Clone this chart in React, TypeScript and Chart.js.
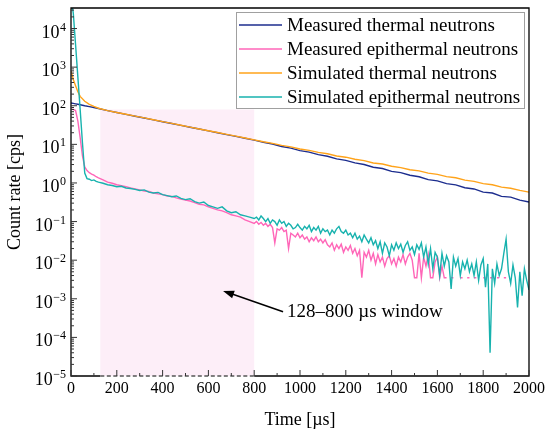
import React, { useEffect, useRef } from 'react';
import { Chart, registerables } from 'chart.js';

Chart.register(...registerables);

const SERIF = '"Liberation Serif", "Times New Roman", serif';

// time axis (µs) for the thermal curves
const thermalTimes = [
  0, 10, 20, 30, 40, 60, 80, 100, 120,
  160, 200, 240, 280, 320, 360, 400, 440, 480, 520, 560, 600, 640, 680, 720, 760, 800,
  840, 880, 920, 960, 1000, 1040, 1080, 1120, 1160, 1200, 1240, 1280, 1320, 1360, 1400,
  1440, 1480, 1520, 1560, 1600, 1640, 1680, 1720, 1760, 1800, 1840, 1880, 1920, 1960, 2000,
];

const measuredThermal = [
  118, 115, 112, 109, 106, 100, 95, 90, 85,
  74.5, 66.7, 59.8, 53.6, 48.1, 43.1, 38.6, 34.6, 31.0, 27.8, 24.9, 22.3, 20.0, 17.9, 16.1, 14.4, 12.9,
  11.3, 10.2, 8.8, 8.0, 6.9, 6.3, 5.4, 4.9, 4.2, 3.85, 3.3, 3.0, 2.55, 2.36, 2.0,
  1.85, 1.58, 1.45, 1.22, 1.13, 0.96, 0.89, 0.75, 0.7, 0.58, 0.55, 0.45, 0.43, 0.36, 0.32,
];

const simulatedThermal = [
  800, 480, 330, 230, 175, 130, 108, 96, 86,
  75, 67, 60, 54, 48.5, 43.5, 38.8, 34.8, 31.2, 28, 25, 22.5, 20.2, 18.1, 16.3, 14.6, 13.1,
  11.7, 10.6, 9.4, 8.6, 7.6, 7.0, 6.2, 5.7, 5.0, 4.65, 4.1, 3.8, 3.3, 3.1, 2.7,
  2.5, 2.2, 2.05, 1.8, 1.67, 1.46, 1.36, 1.18, 1.1, 0.96, 0.9, 0.78, 0.73, 0.64, 0.58,
];

// time axis (µs) for the epithermal curves
const epiTimes = [
  0, 10, 20, 30, 40, 50, 60, 70, 80, 90, 100, 110, 120,
  140, 160, 180, 200, 220, 240, 260, 280, 300, 320, 340, 360, 380, 400, 420, 440, 460, 480,
  500, 520, 540, 560, 580, 600, 620, 640, 660, 680, 700, 720, 740, 760, 780, 800,
  810, 820, 830, 840, 850, 860, 870, 880, 890, 900, 910, 920, 930, 940, 950, 960, 970, 980, 990, 1000,
  1010, 1020, 1030, 1040, 1050, 1060, 1070, 1080, 1090, 1100, 1110, 1120, 1130, 1140, 1150, 1160,
  1170, 1180, 1190, 1200, 1210, 1220, 1230, 1240, 1250, 1260, 1270, 1280, 1290, 1300, 1310, 1320,
  1330, 1340, 1350, 1360, 1370, 1380, 1390, 1400, 1410, 1420, 1430, 1440, 1450, 1460, 1470, 1480,
  1490, 1500, 1510, 1520, 1530, 1540, 1550, 1560, 1570, 1580, 1590, 1600, 1610, 1620, 1630, 1640,
  1650, 1660, 1670, 1680, 1690, 1700, 1710, 1720, 1730, 1740, 1750, 1760, 1770, 1780, 1790, 1800,
  1810, 1820, 1830, 1840, 1850, 1860, 1870, 1880, 1890, 1900, 1910, 1920, 1930, 1940, 1950, 1960,
  1970, 1980, 1990, 2000,
];

const measuredEpithermal: (number | null)[] = [
  82, 80, 75, 40, 15, 5, 2.6, 2.1, 1.85, 1.7, 1.6, 1.45, 1.35,
  1.2, 1.05, 0.98, 0.9, 0.85, 0.8, 0.74, 0.7, 0.66, 0.62, 0.6, 0.55, 0.52, 0.5, 0.46, 0.45, 0.41, 0.38,
  0.36, 0.34, 0.31, 0.28, 0.27, 0.24, 0.22, 0.2, 0.19, 0.17, 0.15, 0.14, 0.13, 0.11, 0.1, 0.09,
  0.1, 0.085, 0.095, 0.08, 0.09, 0.075, 0.085, 0.07, 0.028, 0.065, 0.06, 0.07, 0.055, 0.06, 0.02, 0.05, 0.045, 0.04, 0.05, 0.038,
  0.045, 0.035, 0.04, 0.03, 0.038, 0.032, 0.04, 0.03, 0.035, 0.028, 0.034, 0.025, 0.022, 0.028, 0.018, 0.025,
  0.02, 0.026, 0.016, 0.022, 0.018, 0.024, 0.015, 0.02, 0.013, 0.018, 0.0035, 0.016, 0.012, 0.018, 0.01, 0.015,
  0.008, 0.014, 0.009, 0.012, 0.007, 0.011, 0.013, 0.008, 0.011, 0.007, 0.012, 0.009, 0.014, 0.008, 0.012, 0.015,
  0.01, 0.0035, 0.0035, 0.015, 0.0035, 0.012, 0.007, 0.014, 0.0035, 0.0035, 0.009, 0.012, 0.0035, 0.007, 0.0035, 0.0035,
  null, 0.0035, 0.0035, null, null, 0.0035, 0.0035, null, 0.0035, 0.0035, null, 0.0035, 0.0035, null, null, 0.0035,
  0.0035, null, 0.0035, 0.0035, null, 0.0035, 0.0035, null, 0.0035, 0.0035,
];

const simulatedEpithermal = [
  60000, 25000, 3800, 550, 80, 11, 1.8, 1.3, 1.25, 1.15, 1.2, 1.1, 1.05,
  0.98, 0.9, 0.86, 0.8, 0.82, 0.74, 0.72, 0.68, 0.64, 0.66, 0.58, 0.55, 0.57, 0.5, 0.47, 0.44, 0.46, 0.4,
  0.37, 0.39, 0.33, 0.3, 0.32, 0.26, 0.24, 0.22, 0.24, 0.19, 0.17, 0.18, 0.15, 0.14, 0.13, 0.12,
  0.13, 0.11, 0.14, 0.12, 0.1, 0.12, 0.09, 0.11, 0.1, 0.08, 0.11, 0.09, 0.1, 0.075, 0.09, 0.08, 0.065, 0.07, 0.085, 0.07,
  0.06, 0.075, 0.065, 0.08, 0.055, 0.07, 0.06, 0.075, 0.05, 0.065, 0.055, 0.06, 0.045, 0.06, 0.05, 0.065,
  0.075, 0.055, 0.05, 0.06, 0.045, 0.05, 0.038, 0.05, 0.035, 0.042, 0.03, 0.045, 0.035, 0.028, 0.038, 0.025,
  0.032, 0.02, 0.03, 0.015, 0.028, 0.022, 0.013, 0.025, 0.018, 0.028, 0.02, 0.026, 0.016, 0.024, 0.03, 0.018,
  0.022, 0.014, 0.025, 0.019, 0.028, 0.012, 0.022, 0.008, 0.02, 0.006, 0.016, 0.012, 0.004, 0.015, 0.007, 0.013,
  0.009, 0.0018, 0.012, 0.007, 0.011, 0.004, 0.009, 0.006, 0.01, 0.005, 0.008, 0.004, 0.009, 0.003, 0.0075, 0.011,
  0.002, 0.008, 0.00004, 0.006, 0.0025, 0.008, 0.004, 0.006, 0.015, 0.035, 0.005, 0.0025, 0.0075, 0.0035, 0.0006, 0.005,
  0.0012, 0.006, 0.003, 0.0017,
];

const seriesLabels = [
  'Measured thermal neutrons',
  'Measured epithermal neutrons',
  'Simulated thermal neutrons',
  'Simulated epithermal neutrons',
];
const seriesColors = ['#1c2d8e', '#ff66b8', '#ffa31a', '#17b2ae'];

const xTicks = [0, 200, 400, 600, 800, 1000, 1200, 1400, 1600, 1800, 2000];
const yPowers = [-5, -4, -3, -2, -1, 0, 1, 2, 3, 4];

// shaded analysis window
const windowStart = 128;
const windowEnd = 800;
const windowTop = 80;
const windowText = '128–800 µs window';
const arrowHead = { x: 664, y: 1.6e-3 };
const arrowTail = { x: 926, y: 4.6e-4 };

const toPoints = (times: number[], values: (number | null)[]) =>
  values.map((v, i) => ({ x: times[i], y: v }));

const decorations = {
  id: 'decorations',
  beforeDatasetsDraw(chart: any) {
    const { ctx, chartArea, scales } = chart;
    const { x, y } = scales;
    const l = x.getPixelForValue(windowStart);
    const r = x.getPixelForValue(windowEnd);
    const t = y.getPixelForValue(windowTop);
    ctx.save();
    ctx.fillStyle = '#fdeef8';
    ctx.fillRect(l, t, r - l, chartArea.bottom - t);
    ctx.restore();
  },
  afterDatasetsDraw(chart: any) {
    const { ctx, chartArea, scales } = chart;
    const { x, y } = scales;
    const { left, right, top, bottom } = chartArea;
    ctx.save();

    // frame
    ctx.strokeStyle = '#000';
    ctx.lineWidth = 1.3;
    ctx.beginPath();
    ctx.moveTo(x.getPixelForValue(windowStart), bottom);
    ctx.lineTo(left, bottom);
    ctx.lineTo(left, top);
    ctx.lineTo(right, top);
    ctx.lineTo(right, bottom);
    ctx.lineTo(x.getPixelForValue(windowEnd), bottom);
    ctx.stroke();
    ctx.save();
    ctx.strokeStyle = '#555';
    ctx.setLineDash([4, 2.5]);
    ctx.beginPath();
    ctx.moveTo(x.getPixelForValue(windowStart), bottom);
    ctx.lineTo(x.getPixelForValue(windowEnd), bottom);
    ctx.stroke();
    ctx.restore();

    // inward ticks
    ctx.lineWidth = 1;
    ctx.strokeStyle = '#333';
    ctx.beginPath();
    xTicks.forEach((v) => {
      const px = x.getPixelForValue(v);
      ctx.moveTo(px, bottom);
      ctx.lineTo(px, bottom - 6);
      const mx = x.getPixelForValue(v + 100);
      if (v + 100 < 2000) {
        ctx.moveTo(mx, bottom);
        ctx.lineTo(mx, bottom - 3);
      }
    });
    yPowers.forEach((p) => {
      const py = y.getPixelForValue(Math.pow(10, p));
      ctx.moveTo(left, py);
      ctx.lineTo(left + 6, py);
      for (let m = 2; m <= 9; m++) {
        const v = m * Math.pow(10, p);
        if (v > y.max) break;
        const my = y.getPixelForValue(v);
        ctx.moveTo(left, my);
        ctx.lineTo(left + 3, my);
      }
    });
    ctx.stroke();

    // y tick labels 10^n
    ctx.fillStyle = '#000';
    ctx.textBaseline = 'alphabetic';
    ctx.textAlign = 'left';
    yPowers.forEach((p) => {
      const py = y.getPixelForValue(Math.pow(10, p));
      const exp = p < 0 ? '−' + -p : String(p);
      ctx.font = `12px ${SERIF}`;
      const we = ctx.measureText(exp).width;
      ctx.font = `18px ${SERIF}`;
      const wb = ctx.measureText('10').width;
      const rx = left - 5;
      ctx.fillText('10', rx - we - wb - 0.5, py + 9);
      ctx.font = `12px ${SERIF}`;
      ctx.fillText(exp, rx - we, py + 2);
    });

    // arrow + label
    const hx = x.getPixelForValue(arrowHead.x);
    const hy = y.getPixelForValue(arrowHead.y);
    const tx = x.getPixelForValue(arrowTail.x);
    const ty = y.getPixelForValue(arrowTail.y);
    const ang = Math.atan2(hy - ty, hx - tx);
    const hl = 11;
    const hw = 4;
    ctx.strokeStyle = '#000';
    ctx.lineWidth = 1.5;
    ctx.beginPath();
    ctx.moveTo(tx, ty);
    ctx.lineTo(hx - Math.cos(ang) * hl * 0.8, hy - Math.sin(ang) * hl * 0.8);
    ctx.stroke();
    ctx.beginPath();
    ctx.moveTo(hx, hy);
    ctx.lineTo(
      hx - Math.cos(ang) * hl + Math.sin(ang) * hw,
      hy - Math.sin(ang) * hl - Math.cos(ang) * hw
    );
    ctx.lineTo(
      hx - Math.cos(ang) * hl - Math.sin(ang) * hw,
      hy - Math.sin(ang) * hl + Math.cos(ang) * hw
    );
    ctx.closePath();
    ctx.fill();
    ctx.font = `19px ${SERIF}`;
    ctx.textBaseline = 'middle';
    ctx.fillText(windowText, tx + 4, ty);

    // legend box
    const bx = 236;
    const by = 12;
    ctx.fillStyle = '#fff';
    ctx.fillRect(bx, by, 288, 96);
    ctx.strokeStyle = '#a0a0a0';
    ctx.lineWidth = 1;
    ctx.strokeRect(bx + 0.5, by + 0.5, 288, 96);
    seriesLabels.forEach((label, i) => {
      const ry = by + 13 + i * 24;
      ctx.strokeStyle = seriesColors[i];
      ctx.lineWidth = 1.5;
      ctx.beginPath();
      ctx.moveTo(bx + 3, ry);
      ctx.lineTo(bx + 46, ry);
      ctx.stroke();
      ctx.fillStyle = '#000';
      ctx.font = `19px ${SERIF}`;
      ctx.textBaseline = 'middle';
      ctx.fillText(label, bx + 51, ry + 1);
    });

    ctx.restore();
  },
};

export default function App() {
  const canvasRef = useRef<HTMLCanvasElement>(null);

  useEffect(() => {
    document.body.style.margin = '0';
    const series = [
      toPoints(thermalTimes, measuredThermal),
      toPoints(epiTimes, measuredEpithermal),
      toPoints(thermalTimes, simulatedThermal),
      toPoints(epiTimes, simulatedEpithermal),
    ];
    const drawOrder = [3, 2, 1, 0];
    const chart = new Chart(canvasRef.current!, {
      type: 'line',
      data: {
        datasets: series.map((data, i) => ({
          label: seriesLabels[i],
          data,
          borderColor: seriesColors[i],
          backgroundColor: seriesColors[i],
          borderWidth: 1.4,
          pointRadius: 0,
          tension: 0,
          spanGaps: false,
          order: drawOrder[i],
        })),
      },
      options: {
        animation: false,
        responsive: true,
        maintainAspectRatio: false,
        layout: { padding: { top: 8, right: 21, left: 0, bottom: 0 } },
        plugins: { legend: { display: false }, tooltip: { enabled: false } },
        scales: {
          x: {
            type: 'linear',
            min: 0,
            max: 2000,
            afterFit: (s: any) => {
              s.height = 58;
            },
            afterBuildTicks: (s: any) => {
              s.ticks = xTicks.map((v) => ({ value: v }));
            },
            grid: { display: false, drawTicks: false },
            border: { display: false },
            ticks: {
              padding: 3,
              color: '#000',
              font: { family: SERIF, size: 16 },
              maxRotation: 0,
              autoSkip: false,
              callback: (v: any) => String(v),
            },
            title: {
              display: true,
              text: 'Time [µs]',
              color: '#000',
              font: { family: SERIF, size: 18 },
              padding: { top: 0, bottom: 3 },
            },
          },
          y: {
            type: 'logarithmic',
            min: 1e-5,
            max: 3.4e4,
            afterFit: (s: any) => {
              s.width = 71;
            },
            grid: { display: false, drawTicks: false },
            border: { display: false },
            ticks: { display: false },
            title: {
              display: true,
              text: 'Count rate [cps]',
              color: '#000',
              font: { family: SERIF, size: 18 },
              padding: { top: 4, bottom: 0 },
            },
          },
        },
      },
      plugins: [decorations],
    });
    return () => chart.destroy();
  }, []);

  return (
    <div style={{ width: 550, height: 434, position: 'relative' }}>
      <canvas ref={canvasRef} />
    </div>
  );
}
